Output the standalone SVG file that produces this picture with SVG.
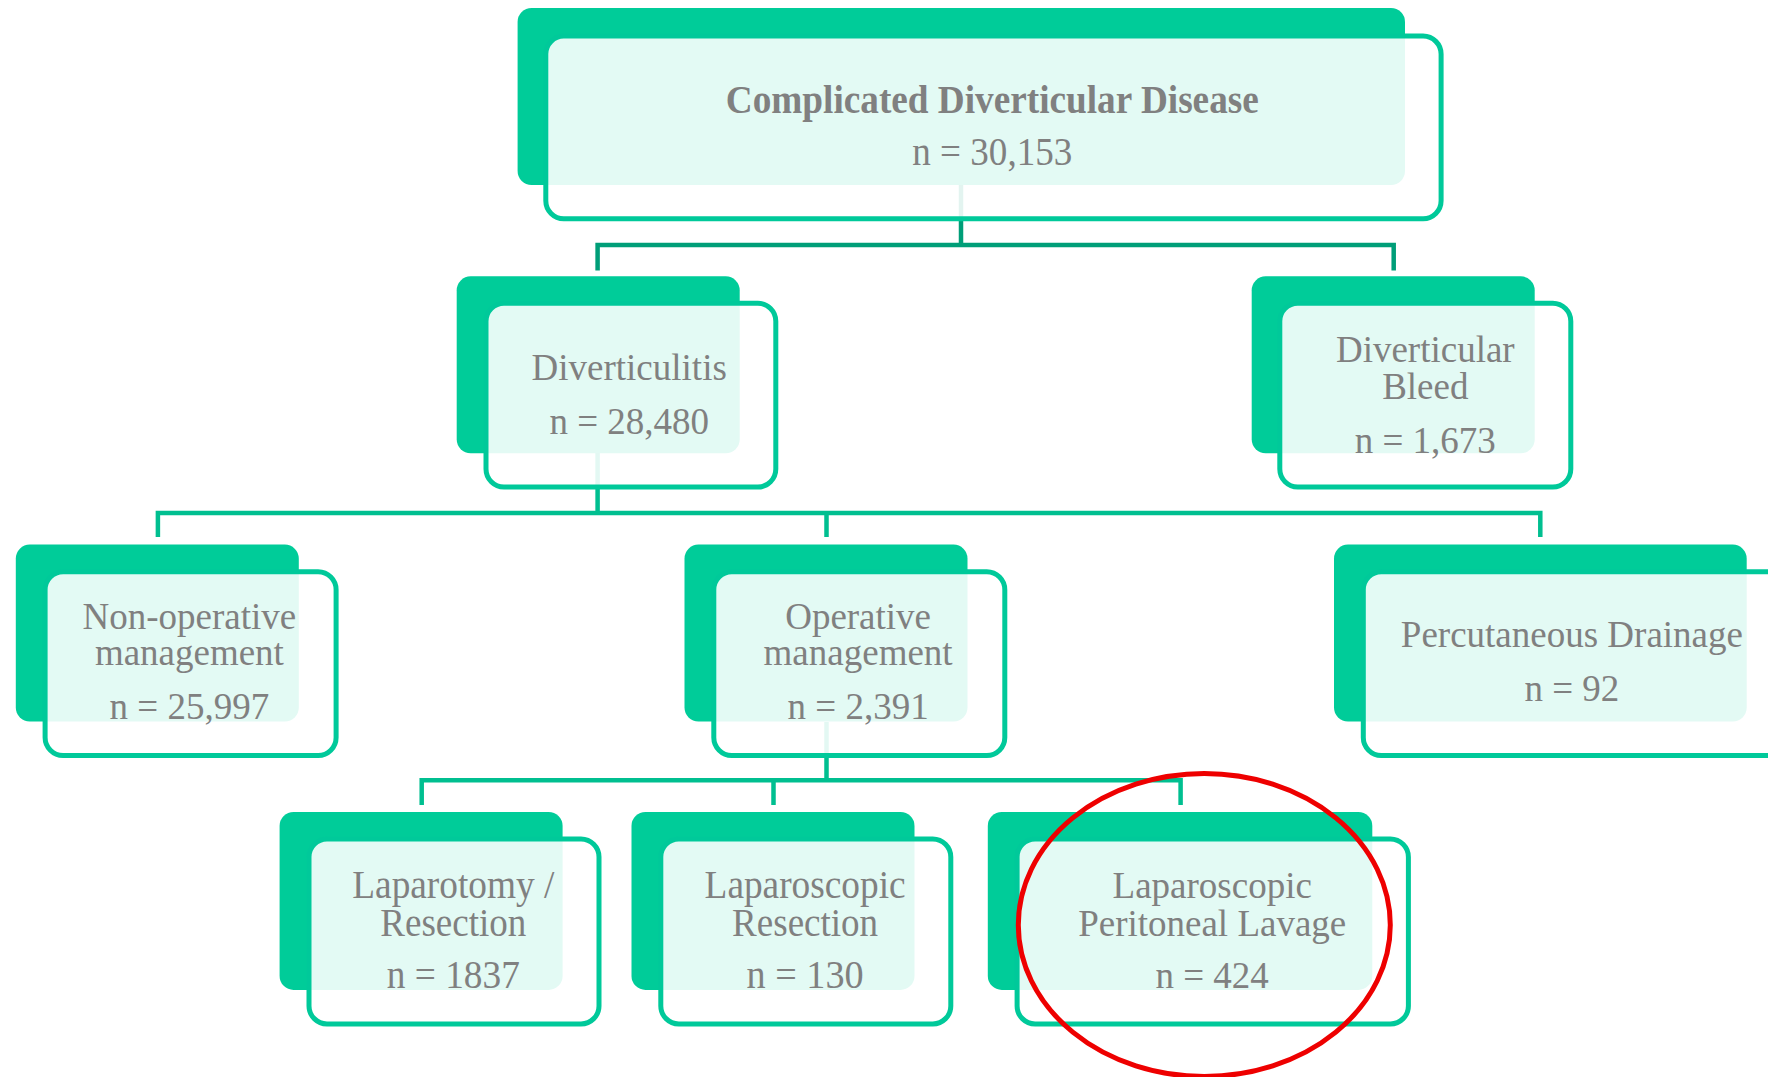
<svg xmlns="http://www.w3.org/2000/svg" width="1768" height="1077" viewBox="0 0 1768 1077">
<style>
.f{fill:#00CC99}
.o{fill:#ffffff;fill-opacity:0.89;stroke:#00C99A;stroke-width:5}
.t{font-family:"Liberation Serif","Times New Roman",serif;font-size:37px;fill:#808080;text-anchor:middle}
.tc{font-size:41px}
.b{font-weight:bold}
.c{fill:none;stroke:#00BF90;stroke-width:4.5}
.c1{stroke:#009E78}
</style>
<rect width="1768" height="1077" fill="#ffffff"/>
<g id="connectors">
<path class="c c1" d="M961 185 V245 M597.6 270.6 V245 H1393.7 V270.6"/>
<path class="c" d="M597.6 453 V513 M157.9 537 V513 H1540.3 V537 M826.5 513 V537"/>
<path class="c" d="M826.5 722 V780.3 M421.7 805 V780.3 H1180.6 V805 M773.5 780.3 V805"/>
</g>
<g id="node-complicated">
<rect class="f" x="517.6" y="8" width="887.4" height="177" rx="14"/>
<rect class="o" x="545.8" y="36.1" width="895.3" height="182.7" rx="18"/>
<text class="t b tc" x="992.3" y="112.8" font-size="42" textLength="533" lengthAdjust="spacingAndGlyphs">Complicated Diverticular Disease</text>
<text class="t tc" x="992.3" y="164.6" font-size="42" textLength="160" lengthAdjust="spacingAndGlyphs">n = 30,153</text>
</g>
<g id="node-diverticulitis">
<rect class="f" x="456.7" y="276.3" width="283" height="177" rx="14"/>
<rect class="o" x="486" y="303.3" width="289.8" height="183.8" rx="18"/>
<text class="t" x="629.2" y="380">Diverticulitis</text>
<text class="t" x="629.2" y="434">n = 28,480</text>
</g>
<g id="node-bleed">
<rect class="f" x="1251.7" y="276.3" width="283" height="177" rx="14"/>
<rect class="o" x="1279.8" y="303.3" width="291" height="183.8" rx="18"/>
<text class="t" x="1425.3" y="362">Diverticular<tspan x="1425.3" dy="37">Bleed</tspan></text>
<text class="t" x="1425.3" y="453">n = 1,673</text>
</g>
<g id="node-nonoperative">
<rect class="f" x="15.8" y="544.6" width="283" height="177" rx="14"/>
<rect class="o" x="45.1" y="571.7" width="291" height="183.8" rx="18"/>
<text class="t" x="189.4" y="629">Non-operative<tspan x="189.4" dy="36">management</tspan></text>
<text class="t" x="189.4" y="719">n = 25,997</text>
</g>
<g id="node-operative">
<rect class="f" x="684.5" y="544.6" width="283" height="177" rx="14"/>
<rect class="o" x="713.8" y="571.7" width="291" height="183.8" rx="18"/>
<text class="t" x="858.1" y="629">Operative<tspan x="858.1" dy="36">management</tspan></text>
<text class="t" x="858.1" y="719">n = 2,391</text>
</g>
<g id="node-percutaneous">
<rect class="f" x="1334" y="544.6" width="412.7" height="177" rx="14"/>
<rect class="o" x="1363.3" y="571.7" width="430" height="183.8" rx="18"/>
<text class="t" x="1571.9" y="647">Percutaneous Drainage</text>
<text class="t" x="1571.9" y="701">n = 92</text>
</g>
<g id="node-laparotomy">
<rect class="f" x="279.6" y="811.9" width="283" height="178" rx="14"/>
<rect class="o" x="309" y="838.9" width="290" height="185" rx="18"/>
<text class="t tc" x="453.3" y="897.6"><tspan textLength="202" lengthAdjust="spacingAndGlyphs">Laparotomy /</tspan><tspan x="453.3" dy="38.3" textLength="146" lengthAdjust="spacingAndGlyphs">Resection</tspan></text>
<text class="t tc" x="453.3" y="987.8" textLength="133" lengthAdjust="spacingAndGlyphs">n = 1837</text>
</g>
<g id="node-lap-resection">
<rect class="f" x="631.5" y="811.9" width="283" height="178" rx="14"/>
<rect class="o" x="660.8" y="838.9" width="290" height="185" rx="18"/>
<text class="t tc" x="805.1" y="897.6"><tspan textLength="201" lengthAdjust="spacingAndGlyphs">Laparoscopic</tspan><tspan x="805.1" dy="38.3" textLength="146" lengthAdjust="spacingAndGlyphs">Resection</tspan></text>
<text class="t tc" x="805.1" y="987.8" textLength="117" lengthAdjust="spacingAndGlyphs">n = 130</text>
</g>
<g id="node-lavage">
<rect class="f" x="987.8" y="811.9" width="384.5" height="178" rx="14"/>
<rect class="o" x="1017.1" y="838.9" width="391.3" height="185" rx="18"/>
<text class="t" x="1212.2" y="897.6">Laparoscopic<tspan x="1212.2" dy="38.3">Peritoneal Lavage</tspan></text>
<text class="t" x="1212.2" y="987.8">n = 424</text>
</g>
<ellipse id="highlight" cx="1204.3" cy="925" rx="186" ry="151.5" fill="none" stroke="#EE0000" stroke-width="5"/>
</svg>
